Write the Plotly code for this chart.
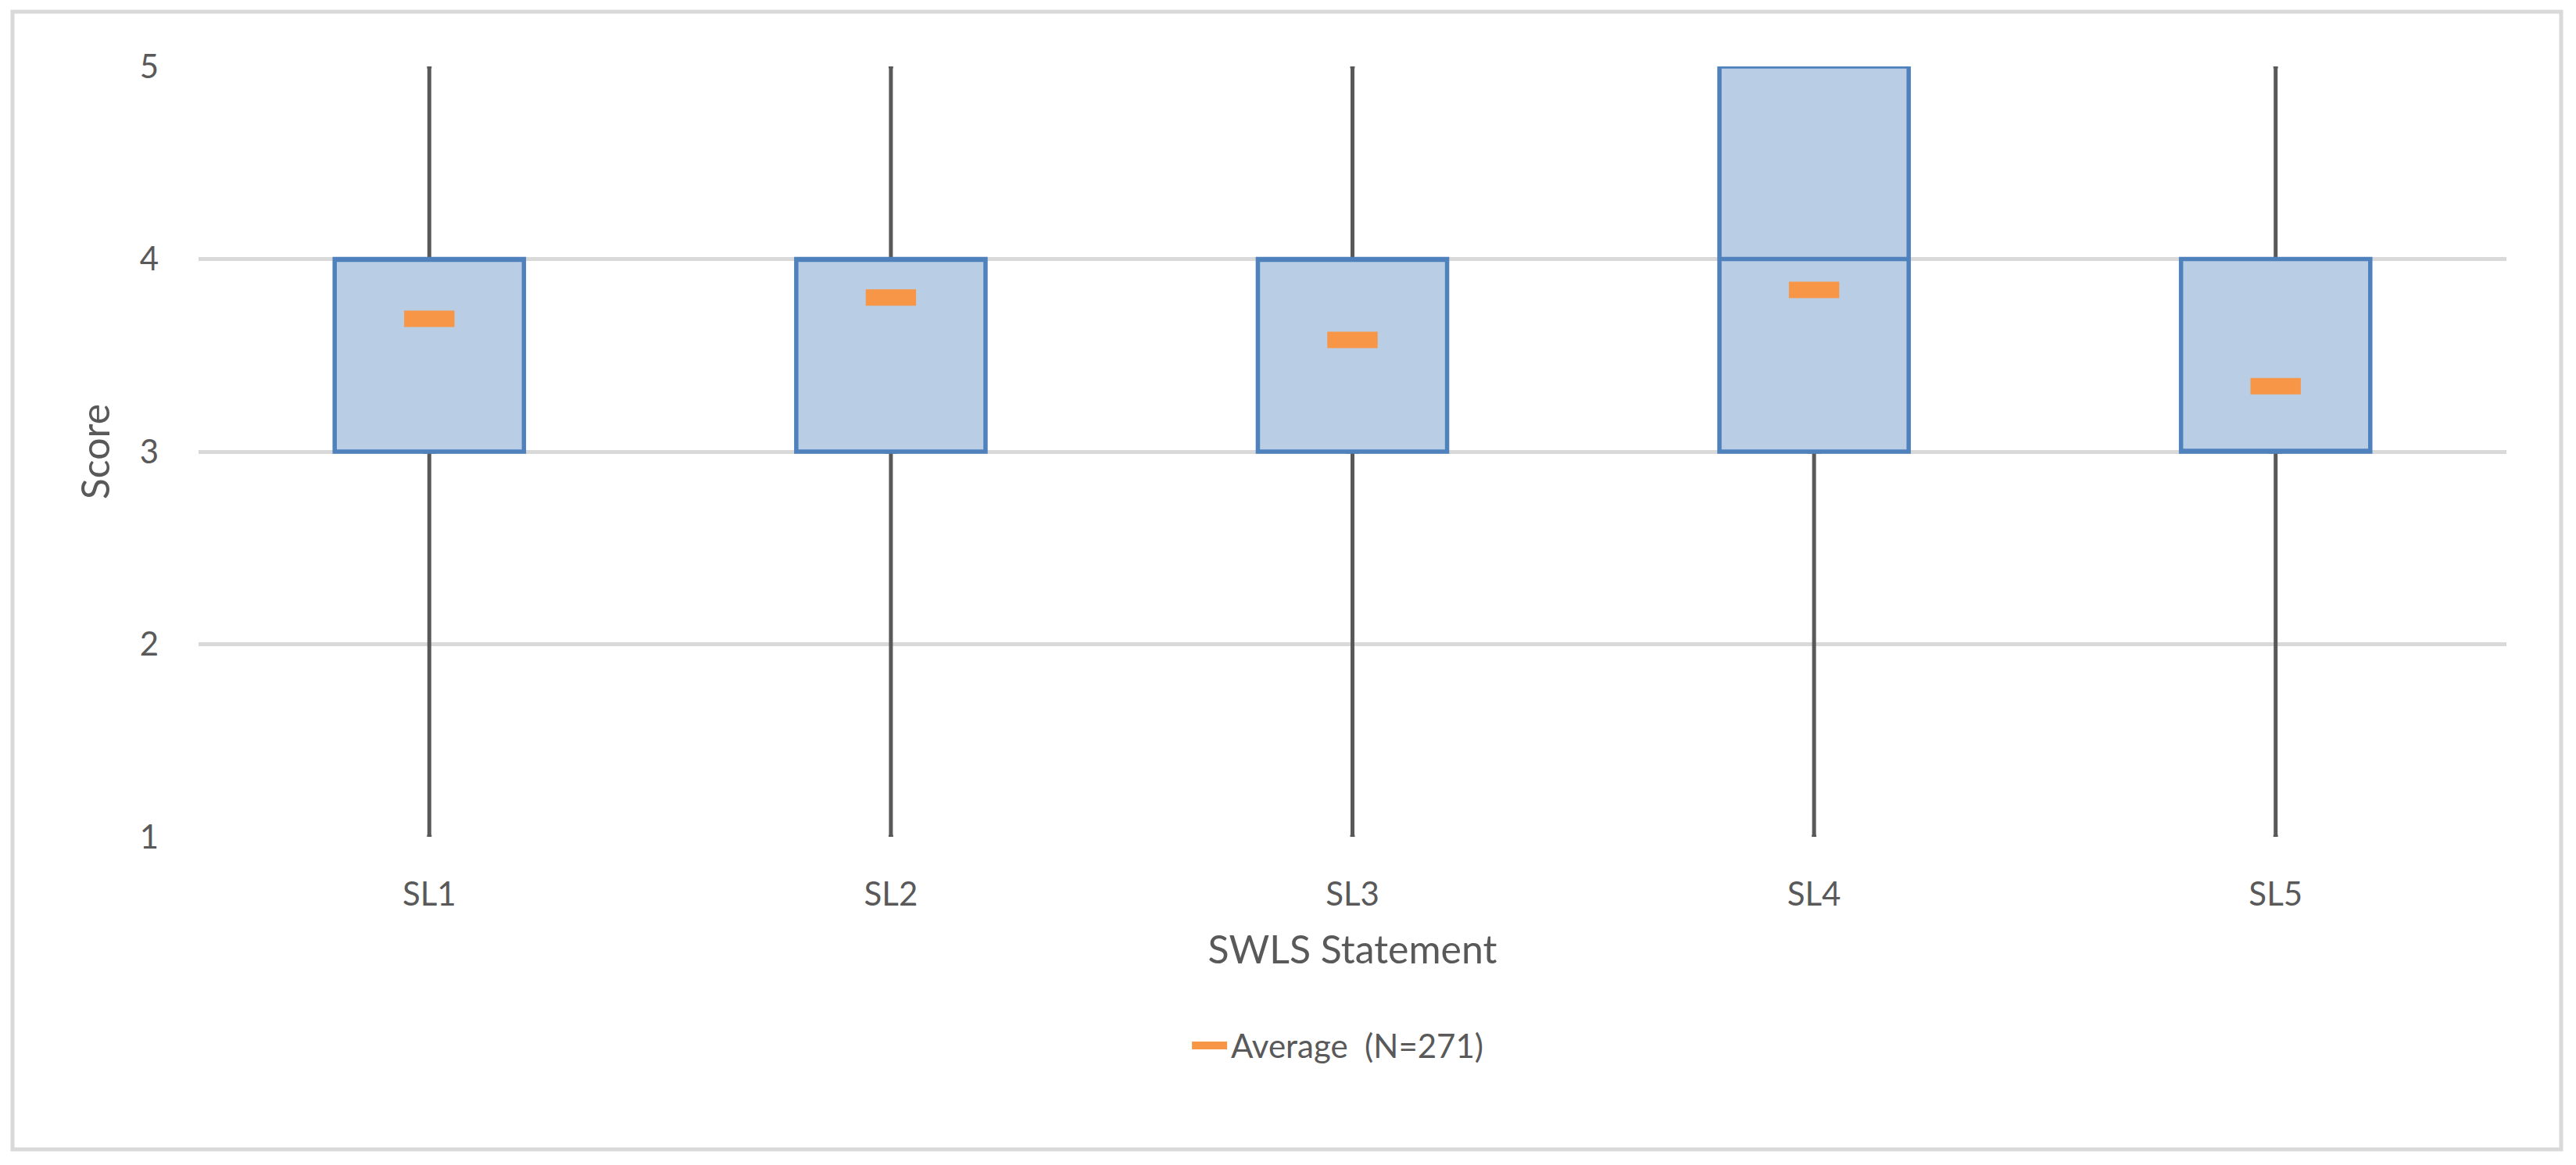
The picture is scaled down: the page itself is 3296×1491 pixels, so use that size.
import plotly.graph_objects as go

# SWLS statement scores (N=271), box = quartiles, whiskers = min/max
statements = ['SL1', 'SL2', 'SL3', 'SL4', 'SL5']
score_min = [1, 1, 1, 1, 1]
score_q1 = [3, 3, 3, 3, 3]
score_median = [4, 4, 4, 4, 3]
score_q3 = [4, 4, 4, 5, 4]
score_max = [5, 5, 5, 5, 5]
score_mean = [3.69, 3.80, 3.58, 3.84, 3.34]

font_family = 'Lato, Open Sans, sans-serif'
text_grey = '#595959'

fig = go.Figure()

# whiskers (grey), drawn first so the blue box covers its own outline
fig.add_trace(go.Box(
    x=statements,
    q1=score_q1, median=score_median, q3=score_q3,
    lowerfence=score_min, upperfence=score_max,
    width=0.02,
    line=dict(color='#595959', width=5),
    fillcolor='rgba(0,0,0,0)',
    showlegend=False,
    hoverinfo='skip',
))

# quartile box
fig.add_trace(go.Box(
    x=statements,
    q1=score_q1, median=score_median, q3=score_q3,
    lowerfence=score_q1, upperfence=score_q3,
    width=0.41,
    line=dict(color='#4F81BD', width=5.5),
    fillcolor='#B9CDE5',
    showlegend=False,
))

# averages
fig.add_trace(go.Scatter(
    x=statements,
    y=score_mean,
    mode='markers',
    marker=dict(symbol='line-ew', size=46, color='#F79646',
                line=dict(color='#F79646', width=21)),
    showlegend=False,
))

# legend entry for the averages
fig.add_trace(go.Scatter(
    x=[None], y=[None],
    mode='lines',
    line=dict(color='#F79646', width=17),
    name='Average  (N=271)',
))

# the page body adds 8px, so the figure is 8px smaller than the window
fig.update_layout(
    width=3288,
    height=1483,
    margin=dict(l=246, r=89, t=77, b=420, autoexpand=False),
    paper_bgcolor='white',
    plot_bgcolor='white',
    font=dict(family=font_family, size=42, color=text_grey),
    boxmode='overlay',
    showlegend=True,
    legend=dict(
        orientation='h',
        x=0.4936, xanchor='center',
        y=-0.271, yanchor='middle',
        itemwidth=45,
        font=dict(size=42, color=text_grey),
    ),
    xaxis=dict(
        title=dict(text='SWLS Statement', font=dict(size=50, color=text_grey), standoff=30),
        range=[-0.5, 4.5],
        showgrid=False,
        zeroline=False,
        showline=False,
        ticks='',
        ticklabelstandoff=45,
        tickfont=dict(size=42, color=text_grey),
    ),
    yaxis=dict(
        title=dict(text='Score', font=dict(size=50, color=text_grey), standoff=22),
        range=[1, 5],
        tick0=1,
        dtick=1,
        showgrid=True,
        gridcolor='#D9D9D9',
        gridwidth=5,
        zeroline=False,
        showline=False,
        ticks='',
        ticklabelstandoff=50,
        tickfont=dict(size=42, color=text_grey),
    ),
    shapes=[dict(
        type='rect', xref='paper', yref='paper',
        x0=-0.0806, x1=1.0237, y0=-0.4057, y1=1.071,
        line=dict(color='#D9D9D9', width=5),
        layer='below',
    )],
)

fig.write_html('out.html')
